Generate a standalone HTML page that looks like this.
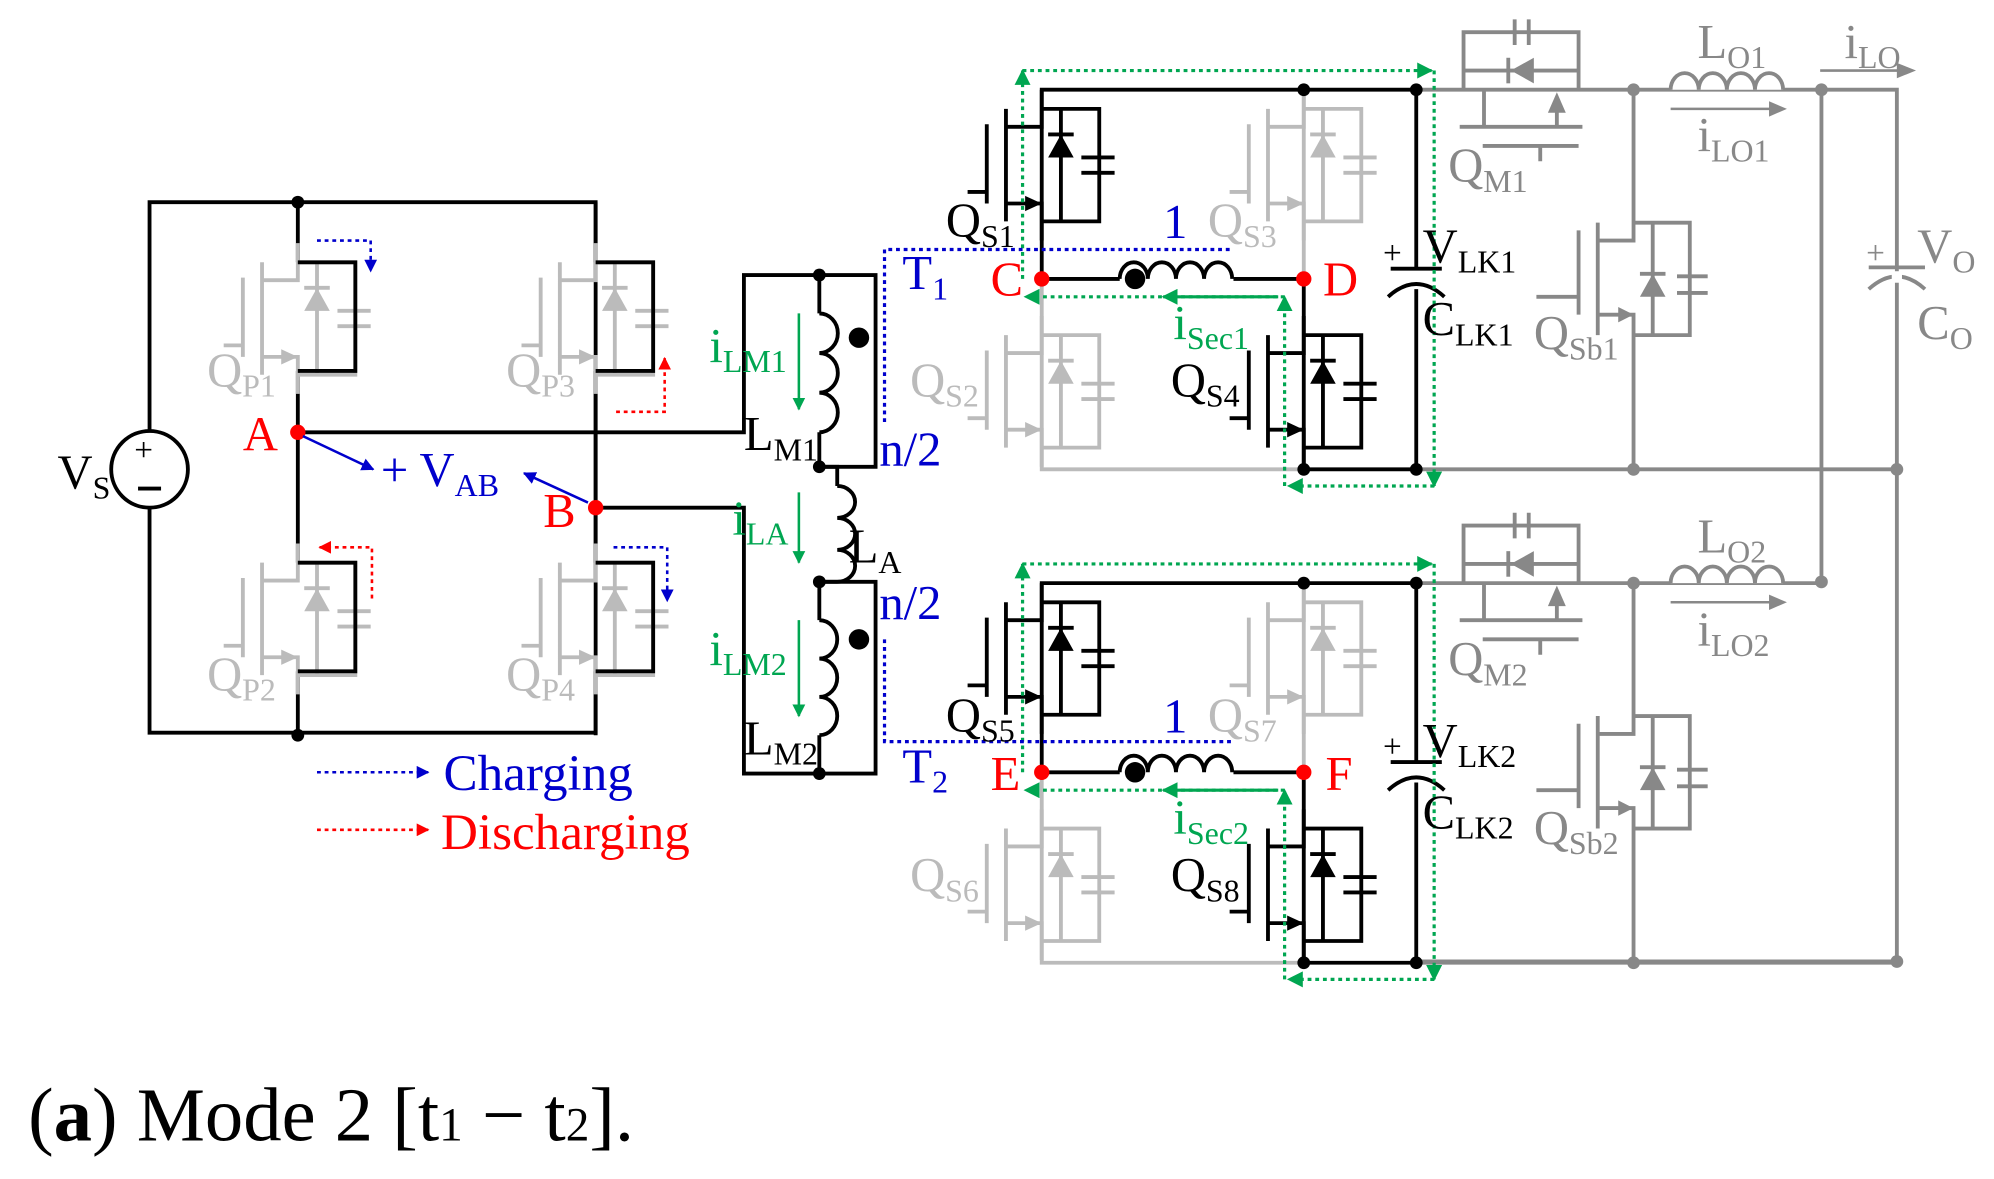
<!DOCTYPE html>
<html><head><meta charset="utf-8"><style>
html,body{margin:0;padding:0;background:#fff;overflow:hidden;}
svg{display:block;}
text{font-family:"Liberation Serif",serif;}
</style></head><body>
<svg width="1994" height="1179" viewBox="0 0 1560 922" xmlns="http://www.w3.org/2000/svg">
<defs>
<g id="mos" fill="none" stroke-width="3">
  <path d="M0,0 V29 H-28 M-28,15 V103 M-43,27 V89 M-43,80 H-58 M-28,89 H0 V118 M0,15 H45 V103 H0 M15,15 V103 M31,53 H57 M31,65 H57"/>
  <path d="M15,35 L5,53 H25 Z M3,35 H27" stroke="none" fill="currentColor"/>
  <path d="M5,35 H25" />
  <path d="M0,89 L-13,83 V95 Z" stroke="none" fill="currentColor"/>
</g>
<marker id="ga" viewBox="0 0 10 10" refX="9" refY="5" markerWidth="5" markerHeight="5" orient="auto"><path d="M0,0 L10,5 L0,10 Z" fill="#00a651"/></marker>
<marker id="ba" viewBox="0 0 10 10" refX="9" refY="5" markerWidth="5" markerHeight="5" orient="auto"><path d="M0,0 L10,5 L0,10 Z" fill="#0000cc"/></marker>
<marker id="ra" viewBox="0 0 10 10" refX="9" refY="5" markerWidth="5" markerHeight="5" orient="auto"><path d="M0,0 L10,5 L0,10 Z" fill="#ff0000"/></marker>
</defs>

<!-- primary -->
<g stroke="#000" stroke-width="3" fill="none">
<path d="M117,337 V158 H466 V573 H117 V397"/>
<path d="M233,158 V205 M233,290 V440 M233,525 V575 M466,205 V158 M466,290 V440 M466,525 V575"/>
<path d="M233,338 H582 V215 H641 M466,397 H582 V605 H641"/>
<circle cx="117" cy="367" r="30" fill="#fff"/>
</g>
<text x="105" y="360" font-size="26">+</text><path d="M108,382 H126" stroke="#000" stroke-width="3"/>
<g color="#bbb" stroke="#bbb">
<use href="#mos" transform="translate(233,190)"/>
<use href="#mos" transform="translate(233,425)"/>
<use href="#mos" transform="translate(466,190)"/>
<use href="#mos" transform="translate(466,425)"/>
</g>
<g stroke="#000" stroke-width="3" fill="none">
<path d="M233,205 H278 V290 H233 M233,440 H278 V525 H233 M466,205 H511 V290 H466 M466,440 H511 V525 H466"/>
</g>
<g fill="#000"><circle cx="233" cy="158" r="5"/><circle cx="233" cy="575" r="5"/></g>
<g fill="#ff0000"><circle cx="233" cy="338" r="6"/><circle cx="466" cy="397" r="6"/></g>

<!-- transformer -->
<g stroke="#000" stroke-width="3" fill="none">
<path d="M641,215 V245 M641,338 V365 H655 V380 M655,455 H641 V485 M641,575 V605"/>
<path d="M641,245 a14,15 0 0 1 0,31 a14,15 0 0 1 0,31 a14,15 0 0 1 0,31"/>
<path d="M641,485 a14,15 0 0 1 0,30 a14,15 0 0 1 0,30 a14,15 0 0 1 0,30"/>
<path d="M655,380 a14,12.5 0 0 1 0,25 a14,12.5 0 0 1 0,25 a14,12.5 0 0 1 0,25"/>
<path d="M641,215 H685 V365 H641 M641,455 H685 V605 H641"/>
</g>
<circle cx="672" cy="264" r="8" fill="#000"/><circle cx="672" cy="500" r="8" fill="#000"/>
<g fill="#000"><circle cx="641" cy="215" r="5"/><circle cx="641" cy="365" r="5"/><circle cx="641" cy="455" r="5"/><circle cx="641" cy="605" r="5"/></g>

<!-- right rails -->
<g stroke="#888" stroke-width="3" fill="none">
<path d="M1425,70 H1484 V752 M1425,70 V455"/>
<path d="M1108,752 H1484"/>
</g>
<path d="M1462,209 H1506 M1462,226 Q1484,206 1506,226" stroke="#888" stroke-width="3" fill="none"/>
<rect x="1480" y="212" width="8" height="9" fill="#fff"/>
<text x="1460" y="206" font-size="26" fill="#888">+</text>
<g fill="#888"><circle cx="1484" cy="367" r="5"/><circle cx="1484" cy="752" r="5"/><circle cx="1425" cy="70" r="5"/><circle cx="1425" cy="455" r="5"/></g>
<path d="M1424,55 H1490" stroke="#888" stroke-width="2"/><path d="M1484,49 L1499,55 L1484,61 Z" fill="#888"/>

<!-- secondary (two copies) -->
<g id="sec">
<g stroke="#888" stroke-width="3" fill="none">
<path d="M1108,70 H1425 M1108,367 H1484"/>
</g>
<g stroke="#bbb" stroke-width="3" fill="none">
<path d="M815,218 V367 H1020"/>
<path d="M1020,70 V218"/>
</g>
<g color="#bbb" stroke="#bbb"><use href="#mos" transform="translate(1020,70)"/><use href="#mos" transform="translate(815,247)"/></g>
<g stroke="#000" stroke-width="3" fill="none">
<path d="M815,218 V70 H1108 V210 M1108,226 V367 H1020 V218"/>
<path d="M815,218 H876 M965,218 H1020"/>
<path d="M876,218 a11,13 0 0 1 22,0 a11,13 0 0 1 22,0 a11,13 0 0 1 22,0 a11,13 0 0 1 22,0"/>
<path d="M1088,210 H1128 M1086,232 Q1108,212 1130,232"/>
</g>
<text x="1082" y="206" font-size="26">+</text>
<circle cx="888" cy="218" r="8" fill="#000"/>
<g color="#000" stroke="#000"><use href="#mos" transform="translate(815,70)"/><use href="#mos" transform="translate(1020,247)"/></g>
<g stroke="#888" stroke-width="3" fill="none">
<path d="M1145,70 V25 H1235 V70 M1145,55 H1235 M1185,15 V35 M1196,15 V35 M1185,25 H1196"/>
<path d="M1161,70 V99 M1218,78 V99 M1142,99 H1238 M1160,114 H1235 M1205,114 V126"/>
<path d="M1278,70 V188 H1250 M1250,174 V262 M1235,180 V246 M1235,232 H1202 M1250,246 H1278 V367 M1278,174 H1322 V262 H1278 M1293,174 V262 M1312,216 H1336 M1312,229 H1336"/>
<path d="M1180,45 V65"/>
</g>
<path d="M1182,55 L1200,45 V65 Z" fill="#888"/>
<path d="M1218,72 L1211,88 H1225 Z" fill="#888"/>
<path d="M1293,214 L1283,232 H1303 Z" fill="#888"/><path d="M1283,214 H1303" stroke="#888" stroke-width="3"/>
<path d="M1278,246 L1266,240 V252 Z" fill="#888"/>
<path d="M1307,70 a11,13 0 0 1 22,0 a11,13 0 0 1 22,0 a11,13 0 0 1 22,0 a11,13 0 0 1 22,0" stroke="#888" stroke-width="3" fill="#fff"/>
<path d="M1307,85 H1390" stroke="#888" stroke-width="2"/>
<path d="M1384,79 L1398,85 L1384,91 Z" fill="#888"/>
<g fill="#000"><circle cx="1020" cy="70" r="5"/><circle cx="1108" cy="70" r="5"/><circle cx="1020" cy="367" r="5"/><circle cx="1108" cy="367" r="5"/></g>
<g fill="#888"><circle cx="1278" cy="70" r="5"/><circle cx="1278" cy="367" r="5"/></g>
<g fill="#ff0000"><circle cx="815" cy="218" r="6"/><circle cx="1020" cy="218" r="6"/></g>
<g stroke="#00a651" stroke-width="2.5" fill="none" stroke-dasharray="3,3">
<path d="M800,218 V55" marker-end="url(#ga)"/>
<path d="M800,55 H1120" marker-end="url(#ga)"/>
<path d="M1122,55 V380" marker-end="url(#ga)"/>
<path d="M1122,380 H1008" marker-end="url(#ga)"/>
<path d="M1005,380 V232" marker-end="url(#ga)"/>
<path d="M1005,232 H802" marker-end="url(#ga)"/>
</g>
<path d="M1000,232 H910" stroke="#00a651" stroke-width="2.5" marker-end="url(#ga)"/>
</g>
<use href="#sec" transform="translate(0,386)"/>

<g stroke="#0000cc" stroke-width="2.5" fill="none" stroke-dasharray="3,3">
<path d="M692,330 V195 H965"/><path d="M692,500 V580 H965"/>
</g>

<g stroke="#00a651" stroke-width="2">
<path d="M625,245 V320" marker-end="url(#ga)"/><path d="M625,385 V440" marker-end="url(#ga)"/><path d="M625,485 V560" marker-end="url(#ga)"/>
</g>
<g stroke-width="2" fill="none" stroke-dasharray="3,3">
<path d="M248,188 H290 V212" stroke="#0000cc" marker-end="url(#ba)"/>
<path d="M480,428 H522 V470" stroke="#0000cc" marker-end="url(#ba)"/>
<path d="M482,322 H520 V280" stroke="#ff0000" marker-end="url(#ra)"/>
<path d="M291,468 V428 H250" stroke="#ff0000" marker-end="url(#ra)"/>
<path d="M248,604 H335" stroke="#0000cc" marker-end="url(#ba)"/>
<path d="M248,649 H335" stroke="#ff0000" marker-end="url(#ra)"/>
</g>
<path d="M237,341 L292,367" stroke="#0000cc" stroke-width="2" marker-end="url(#ba)"/>
<path d="M460,393 L410,370" stroke="#0000cc" stroke-width="2" marker-end="url(#ba)"/>

<g font-size="38">
<text x="45" y="382">V<tspan font-size="25" dy="8">S</tspan></text>
<text x="190" y="352" fill="#ff0000">A</text>
<text x="425" y="412" fill="#ff0000">B</text>
<text x="298" y="380" fill="#0000cc">+ V<tspan font-size="25" dy="8">AB</tspan></text>
<text x="347" y="618" font-size="40" fill="#0000cc">Charging</text>
<text x="345" y="664" font-size="40" fill="#ff0000">Discharging</text>
<g fill="#bbb"><text x="162" y="302">Q<tspan font-size="25" dy="8">P1</tspan></text>
<text x="396" y="302">Q<tspan font-size="25" dy="8">P3</tspan></text>
<text x="162" y="540">Q<tspan font-size="25" dy="8">P2</tspan></text>
<text x="396" y="540">Q<tspan font-size="25" dy="8">P4</tspan></text>
<text x="712" y="310">Q<tspan font-size="25" dy="8">S2</tspan></text>
<text x="945" y="185">Q<tspan font-size="25" dy="8">S3</tspan></text>
<text x="712" y="697">Q<tspan font-size="25" dy="8">S6</tspan></text>
<text x="945" y="572">Q<tspan font-size="25" dy="8">S7</tspan></text></g>
<text x="740" y="185">Q<tspan font-size="25" dy="8">S1</tspan></text>
<text x="740" y="572">Q<tspan font-size="25" dy="8">S5</tspan></text>
<text x="916" y="310">Q<tspan font-size="25" dy="8">S4</tspan></text>
<text x="916" y="697">Q<tspan font-size="25" dy="8">S8</tspan></text>
<g fill="#00a651"><text x="555" y="283">i<tspan font-size="25" dy="8">LM1</tspan></text>
<text x="573" y="418">i<tspan font-size="25" dy="8">LA</tspan></text>
<text x="555" y="520">i<tspan font-size="25" dy="8">LM2</tspan></text>
<text x="918" y="265">i<tspan font-size="25" dy="8">Sec1</tspan></text>
<text x="918" y="652">i<tspan font-size="25" dy="8">Sec2</tspan></text></g>
<text x="582" y="352">L<tspan font-size="25" dy="8">M1</tspan></text>
<text x="664" y="440">L<tspan font-size="25" dy="8">A</tspan></text>
<text x="582" y="590">L<tspan font-size="25" dy="8">M2</tspan></text>
<g fill="#0000cc"><text x="688" y="364">n/2</text><text x="688" y="484">n/2</text>
<text x="706" y="226">T<tspan font-size="25" dy="8">1</tspan></text>
<text x="706" y="612">T<tspan font-size="25" dy="8">2</tspan></text>
<text x="910" y="186">1</text><text x="910" y="573">1</text></g>
<g fill="#ff0000"><text x="775" y="231">C</text><text x="1035" y="231">D</text>
<text x="775" y="618">E</text><text x="1037" y="618">F</text></g>
<text x="1113" y="205">V<tspan font-size="25" dy="8">LK1</tspan></text>
<text x="1113" y="262">C<tspan font-size="25" dy="8">LK1</tspan></text>
<text x="1113" y="592">V<tspan font-size="25" dy="8">LK2</tspan></text>
<text x="1113" y="648">C<tspan font-size="25" dy="8">LK2</tspan></text>
<g fill="#888"><text x="1133" y="142">Q<tspan font-size="25" dy="8">M1</tspan></text>
<text x="1133" y="528">Q<tspan font-size="25" dy="8">M2</tspan></text>
<text x="1200" y="273">Q<tspan font-size="25" dy="8">Sb1</tspan></text>
<text x="1200" y="660">Q<tspan font-size="25" dy="8">Sb2</tspan></text>
<text x="1328" y="45">L<tspan font-size="25" dy="8">O1</tspan></text>
<text x="1328" y="432">L<tspan font-size="25" dy="8">O2</tspan></text>
<text x="1328" y="118">i<tspan font-size="25" dy="8">LO1</tspan></text>
<text x="1328" y="505">i<tspan font-size="25" dy="8">LO2</tspan></text>
<text x="1443" y="45">i<tspan font-size="25" dy="8">LO</tspan></text>
<text x="1500" y="205">V<tspan font-size="25" dy="8">O</tspan></text>
<text x="1500" y="265">C<tspan font-size="25" dy="8">O</tspan></text></g>
</g>
<text x="22" y="892" font-size="60">(<tspan font-weight="bold">a</tspan>) Mode 2 [t<tspan font-size="37">1</tspan> − t<tspan font-size="37">2</tspan>].</text>
</svg>
</body></html>
